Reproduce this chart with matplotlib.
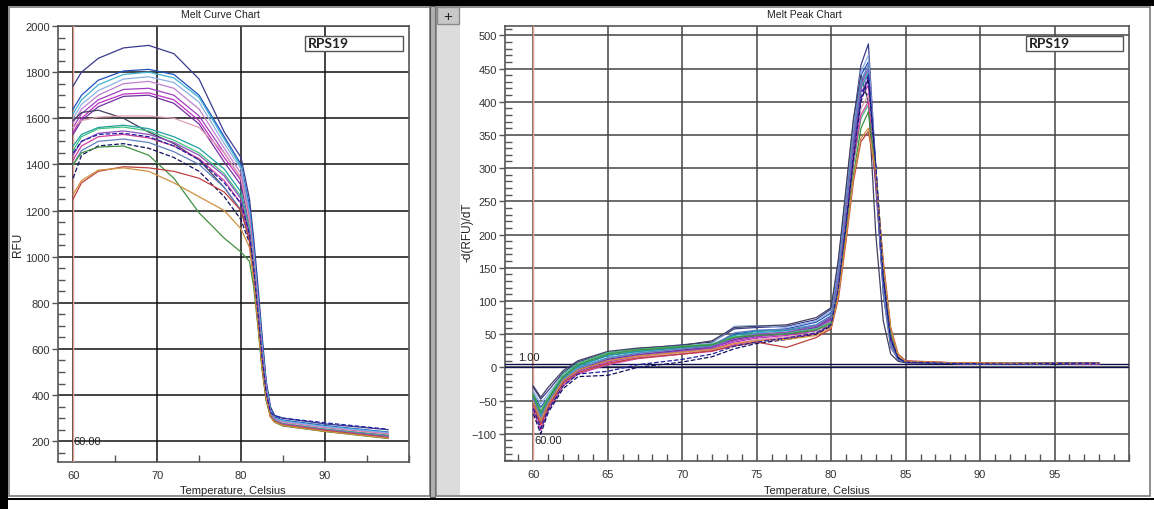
import matplotlib
matplotlib.use("Agg")
import matplotlib.pyplot as plt
from matplotlib.patches import Rectangle
from matplotlib.ticker import MultipleLocator

# ---------------- data ----------------
temp_melt = [60, 61, 63, 66, 69, 72, 75, 78, 80, 81, 81.5, 82, 82.5, 83, 83.5, 84, 85, 90, 97.5]
melt_curves = [
    [1740, 1800, 1860, 1905, 1916, 1880, 1770, 1540, 1430, 1250, 1080, 880, 660, 460, 350, 312, 300, 275, 250],
    [1640, 1700, 1765, 1805, 1812, 1790, 1700, 1520, 1400, 1220, 1050, 850, 640, 450, 340, 305, 292, 268, 240],
    [1620, 1680, 1745, 1790, 1800, 1775, 1690, 1510, 1390, 1200, 1030, 830, 620, 440, 335, 300, 288, 265, 238],
    [1600, 1660, 1720, 1770, 1780, 1755, 1670, 1490, 1380, 1180, 1010, 810, 600, 430, 330, 298, 285, 262, 235],
    [1580, 1640, 1700, 1750, 1760, 1730, 1640, 1470, 1360, 1170, 1000, 800, 590, 420, 325, 295, 282, 258, 232],
    [1560, 1620, 1680, 1725, 1730, 1700, 1610, 1450, 1340, 1160, 990, 790, 585, 415, 322, 294, 280, 256, 230],
    [1540, 1600, 1665, 1705, 1710, 1680, 1590, 1430, 1330, 1150, 980, 780, 575, 410, 320, 292, 278, 254, 228],
    [1530, 1590, 1650, 1695, 1700, 1665, 1575, 1410, 1310, 1140, 970, 770, 570, 405, 318, 290, 276, 252, 226],
    [1590, 1625, 1635, 1600, 1540, 1490, 1420, 1300, 1200, 1080, 920, 720, 520, 380, 310, 288, 276, 252, 225],
    [1560, 1590, 1605, 1610, 1610, 1600, 1560, 1450, 1340, 1150, 980, 780, 575, 410, 320, 292, 280, 256, 230],
    [1480, 1530, 1560, 1570, 1555, 1520, 1470, 1380, 1280, 1120, 960, 760, 560, 400, 315, 290, 276, 252, 224],
    [1460, 1520, 1555, 1562, 1545, 1505, 1450, 1360, 1260, 1110, 950, 755, 555, 398, 314, 289, 275, 250, 222],
    [1440, 1500, 1535, 1545, 1530, 1495, 1440, 1350, 1250, 1100, 945, 750, 550, 395, 312, 288, 274, 249, 220],
    [1420, 1480, 1520, 1530, 1515, 1480, 1425, 1330, 1230, 1090, 935, 740, 545, 392, 310, 286, 272, 247, 218],
    [1400, 1460, 1500, 1510, 1495, 1455, 1400, 1300, 1200, 1080, 925, 735, 540, 390, 310, 285, 270, 245, 216],
    [1340, 1440, 1480, 1490, 1470, 1430, 1370, 1260, 1160, 1060, 910, 720, 530, 385, 308, 284, 268, 244, 214],
    [1400, 1450, 1475, 1480, 1440, 1340, 1190, 1080, 1020, 980, 870, 700, 510, 375, 305, 282, 266, 242, 212],
    [1250, 1320, 1370, 1390, 1385, 1370, 1340, 1280, 1200, 1070, 915, 725, 535, 388, 308, 285, 270, 246, 215],
    [1270, 1330, 1375, 1385, 1370, 1320, 1260, 1200, 1120, 1040, 900, 710, 520, 382, 306, 283, 268, 243, 213],
    [1450, 1500, 1530, 1535, 1520, 1480, 1420, 1320, 1230, 1100, 950, 760, 565, 410, 325, 310, 300, 280, 252],
]

temp_peak = [60, 60.5, 61, 62, 63, 65, 67, 70, 72, 73.5, 75, 77, 79, 80, 80.5, 81, 81.5, 82, 82.5, 83, 83.5, 84, 84.5, 85, 88, 92, 95, 98]
peak_curves = [
    [-30, -48, -35, -8, 8, 22, 28, 34, 38, 58, 60, 62, 72, 88, 160, 265, 370, 455, 487, 300, 110, 30, 12, 8, 6, 6, 7, 6],
    [-40, -60, -45, -15, 2, 18, 24, 30, 34, 50, 55, 58, 68, 82, 150, 255, 360, 440, 460, 290, 120, 35, 12, 8, 6, 5, 6, 6],
    [-45, -70, -50, -18, 0, 15, 22, 28, 32, 45, 52, 55, 64, 78, 145, 245, 350, 430, 450, 285, 115, 33, 11, 7, 6, 5, 6, 5],
    [-35, -55, -40, -12, 4, 20, 26, 32, 36, 62, 63, 60, 70, 85, 155, 260, 365, 445, 470, 300, 125, 38, 13, 8, 6, 6, 7, 6],
    [-50, -75, -55, -20, -2, 12, 20, 26, 30, 42, 48, 52, 60, 75, 140, 240, 345, 420, 440, 280, 115, 32, 11, 7, 6, 5, 6, 5],
    [-55, -85, -58, -22, -5, 10, 18, 25, 30, 40, 46, 50, 58, 72, 135, 235, 335, 415, 430, 290, 130, 40, 14, 8, 6, 6, 6, 6],
    [-60, -90, -60, -25, -8, 8, 16, 24, 28, 38, 44, 48, 55, 70, 130, 230, 330, 405, 425, 285, 128, 38, 13, 8, 6, 5, 6, 5],
    [-50, -80, -55, -20, -4, 12, 19, 26, 31, 42, 48, 52, 60, 74, 138, 238, 340, 418, 410, 270, 120, 36, 12, 7, 6, 5, 6, 5],
    [-28, -45, -30, -5, 10, 24, 29, 33, 40, 60, 62, 64, 75, 90, 165, 270, 375, 440, 400, 200, 70, 20, 9, 7, 6, 6, 7, 6],
    [-60, -88, -62, -26, -8, 6, 15, 22, 26, 36, 42, 46, 52, 66, 125, 225, 320, 390, 410, 295, 140, 45, 15, 9, 7, 6, 6, 6],
    [-45, -72, -50, -16, 2, 18, 24, 30, 34, 48, 54, 56, 62, 76, 140, 240, 342, 420, 445, 290, 120, 35, 12, 8, 6, 5, 6, 6],
    [-40, -65, -45, -10, 6, 22, 27, 32, 35, 46, 50, 52, 58, 68, 120, 210, 305, 375, 395, 300, 150, 50, 16, 9, 6, 6, 6, 6],
    [-55, -82, -58, -22, -6, 10, 18, 24, 29, 44, 50, 53, 62, 76, 142, 242, 345, 425, 450, 295, 125, 37, 12, 8, 6, 5, 6, 6],
    [-65, -95, -65, -28, -10, 4, 13, 20, 24, 34, 40, 44, 50, 64, 120, 215, 310, 380, 400, 290, 140, 46, 15, 9, 7, 6, 6, 6],
    [-48, -75, -52, -18, -2, 14, 21, 28, 32, 52, 56, 57, 64, 78, 146, 248, 352, 432, 455, 292, 122, 36, 12, 8, 6, 5, 6, 6],
    [-70, -100, -68, -32, -14, -12, 0, 8, 16, 28, 36, 42, 50, 62, 118, 212, 315, 400, 435, 300, 135, 42, 14, 8, 6, 5, 6, 6],
    [-42, -68, -48, -14, 4, 20, 26, 31, 34, 45, 48, 50, 56, 66, 115, 200, 290, 360, 385, 295, 150, 52, 17, 9, 7, 6, 6, 6],
    [-58, -86, -60, -24, -8, 6, 14, 20, 25, 32, 38, 30, 45, 58, 105, 190, 280, 340, 355, 290, 160, 60, 20, 10, 7, 6, 6, 6],
    [-52, -80, -56, -20, -4, 10, 17, 23, 27, 36, 40, 42, 48, 60, 110, 195, 285, 345, 360, 295, 155, 58, 18, 9, 7, 6, 6, 6],
    [-62, -92, -64, -28, -10, -6, 4, 12, 20, 32, 38, 44, 52, 64, 122, 218, 320, 405, 440, 305, 138, 44, 14, 8, 6, 5, 6, 6],
]

curve_colors = ['#3a3a8c', '#1f4fbf', '#40b0d0', '#8fb0e0', '#c080d0', '#a040c0', '#c030c0',
                '#7030a0', '#404060', '#e0a0b0', '#20a0a0', '#40c080', '#9050c0', '#d040a0',
                '#6080c0', '#101060', '#409040', '#c04040', '#d09040', '#2020a0']
curve_styles = ['-'] * 15 + ['--', '-', '-', '-', '--']

melt_xticks = [60, 70, 80, 90]
melt_yticks = [200, 400, 600, 800, 1000, 1200, 1400, 1600, 1800, 2000]
peak_xticks = [60, 65, 70, 75, 80, 85, 90, 95]
peak_yticks = [-100, -50, 0, 50, 100, 150, 200, 250, 300, 350, 400, 450, 500]
threshold_peak = 5

W, H = 1154, 510
plt.rcParams['font.family'] = ['Liberation Sans', 'DejaVu Sans']
fig = plt.figure(figsize=(W / 100, H / 100), dpi=100)
fig.patch.set_facecolor('white')


def frect(x0, y0, x1, y1, z=-5, **kw):
    fig.patches.append(Rectangle((x0 / W, 1 - y1 / H), (x1 - x0) / W, (y1 - y0) / H,
                                 transform=fig.transFigure, zorder=z, **kw))


# frame decorations
frect(0, 0, W, 7, facecolor='black', edgecolor='none')
frect(0, 0, 8, H, facecolor='black', edgecolor='none')
frect(9, 8, 430, 497, facecolor='white', edgecolor='#7a7a7a', linewidth=1.2)
frect(430, 7, 435, 498, facecolor='#b0b0b0', edgecolor='#555555', linewidth=0.8)
frect(436, 8, 1150, 497, facecolor='white', edgecolor='#7a7a7a', linewidth=1.2)
frect(437, 9, 460, 496, z=-4, facecolor='#dcdcdc', edgecolor='none')
frect(437, 8, 459, 25, z=-3, facecolor='#c8c8c8', edgecolor='#8a8a8a', linewidth=1)
fig.text(448 / W, 1 - 16.5 / H, '+', ha='center', va='center', fontsize=11, color='#222222')
frect(0, 499, W, 501, facecolor='black', edgecolor='none')


def style_axes(ax, grid_color):
    for s in ax.spines.values():
        s.set_color('#555555')
        s.set_linewidth(1.2)
    ax.grid(True, which='major', color=grid_color, linewidth=1.1)
    ax.set_axisbelow(True)
    ax.tick_params(which='major', direction='out', length=4, width=1, color='#555555',
                   labelsize=8, labelcolor='#333333', pad=2)
    ax.tick_params(which='minor', direction='in', length=5, width=1, color='#555555')
    ax.tick_params(axis='x', which='major', length=0, pad=6)


# ---------- left: melt curve ----------
ax1 = fig.add_axes([58 / W, 1 - 463 / H, 351 / W, 436 / H])
ax1.set_xlim(58.2, 100)
ax1.set_ylim(110, 2000)
ax1.set_xticks(melt_xticks)
ax1.set_yticks(melt_yticks)
ax1.xaxis.set_minor_locator(MultipleLocator(5))
ax1.yaxis.set_minor_locator(MultipleLocator(50))
style_axes(ax1, '#111111')
ax1.axvline(60, color='#e8a090', linewidth=1, zorder=3)
for vals, c, ls in zip(melt_curves, curve_colors, curve_styles):
    ax1.plot(temp_melt, vals, color=c, linestyle=ls, linewidth=0.9, zorder=4)
ax1.text(60.05, 200, '60.00', fontsize=8, color='#222222', ha='left', va='center', zorder=5)
ax1.add_patch(Rectangle((305 / W, 1 - 52 / H), 98 / W, 15 / H, transform=fig.transFigure,
                        facecolor='white', edgecolor='#555555', linewidth=1, zorder=6))
fig.text(308 / W, 1 - 44.5 / H, 'RPS19', fontsize=10, fontweight='bold', family='Lato',
         color='#222222', va='center', ha='left', zorder=7)

# ---------- right: melt peak ----------
ax2 = fig.add_axes([505 / W, 1 - 462 / H, 624 / W, 435 / H])
ax2.set_xlim(58.1, 100)
ax2.set_ylim(-141, 514)
ax2.set_xticks(peak_xticks)
ax2.set_yticks(peak_yticks)
ax2.xaxis.set_minor_locator(MultipleLocator(1))
ax2.yaxis.set_minor_locator(MultipleLocator(10))
style_axes(ax2, '#444444')
ax2.axvline(60, color='#e8a090', linewidth=1, zorder=3)
ax2.axhline(threshold_peak, color='#10104a', linewidth=1, zorder=3)
ax2.axhline(0, color='#10104a', linewidth=1, zorder=3)
for vals, c, ls in zip(peak_curves, curve_colors, curve_styles):
    ax2.plot(temp_peak, vals, color=c, linestyle=ls, linewidth=0.9, zorder=4)
ax2.text(58.95, 16, '1.00', fontsize=8, color='#222222', ha='left', va='center', zorder=5)
ax2.text(60.05, -110, '60.00', fontsize=8, color='#222222', ha='left', va='center', zorder=5)
ax2.add_patch(Rectangle((1026 / W, 1 - 52 / H), 97 / W, 15 / H, transform=fig.transFigure,
                        facecolor='white', edgecolor='#555555', linewidth=1, zorder=6))
fig.text(1029 / W, 1 - 44.5 / H, 'RPS19', fontsize=10, fontweight='bold', family='Lato',
         color='#222222', va='center', ha='left', zorder=7)

# titles and axis labels
fig.text(220 / W, 1 - 15 / H, 'Melt Curve Chart', fontsize=7.5, ha='center', va='center', color='#222222')
fig.text(804 / W, 1 - 15 / H, 'Melt Peak Chart', fontsize=7.5, ha='center', va='center', color='#222222')
fig.text(233 / W, 1 - 491 / H, 'Temperature, Celsius', fontsize=8, ha='center', va='center', color='#222222')
fig.text(817 / W, 1 - 491 / H, 'Temperature, Celsius', fontsize=8, ha='center', va='center', color='#222222')
fig.text(18 / W, 1 - 245 / H, 'RFU', fontsize=8.5, rotation=90, ha='center', va='center', color='#222222')
fig.text(467 / W, 1 - 232 / H, '-d(RFU)/dT', fontsize=8.5, rotation=90, ha='center', va='center', color='#222222')

fig.savefig('out.png', dpi=100)
